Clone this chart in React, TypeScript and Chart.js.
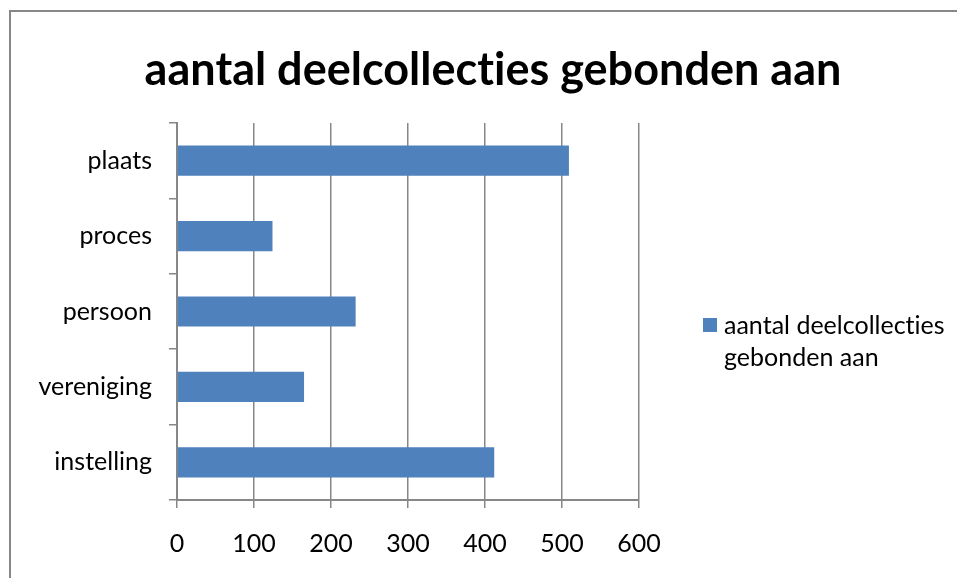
import React, { useEffect, useRef } from "react";
import { Chart, registerables } from "chart.js";

Chart.register(...registerables);

const CATEGORIES = ["plaats", "proces", "persoon", "vereniging", "instelling"];
const VALUES = [509, 124, 232, 165, 412];
const SERIES_LABEL = "aantal deelcollecties gebonden aan";
const LEGEND_LINES = ["aantal deelcollecties", "gebonden aan"];
const TITLE = "aantal deelcollecties gebonden aan";
const X_MIN = 0;
const X_MAX = 600;
const X_STEP = 100;

const GRID = "#878787";
const BAR = "#4F81BD";
const FONT = "Lato, 'Open Sans', sans-serif";

const frameTitleLegend = {
  id: "frameTitleLegend",
  afterDraw(chart: any) {
    const ctx = chart.ctx;
    ctx.save();
    // outer frame (top + left visible)
    ctx.strokeStyle = GRID;
    ctx.lineWidth = 2;
    ctx.beginPath();
    ctx.moveTo(10, 578);
    ctx.lineTo(10, 11);
    ctx.lineTo(957, 11);
    ctx.stroke();
    // title
    try {
      ctx.letterSpacing = "0.01px";
    } catch (e) {}
    ctx.fillStyle = "#000";
    ctx.font = `bold 45px ${FONT}`;
    ctx.textAlign = "center";
    ctx.textBaseline = "middle";
    ctx.fillText(TITLE, 493, 70);
    // legend
    const ds = chart.data.datasets[0];
    ctx.fillStyle = ds.backgroundColor;
    ctx.fillRect(703, 318, 14, 14);
    ctx.fillStyle = "#000";
    ctx.font = `25px ${FONT}`;
    ctx.textAlign = "left";
    ctx.fillText(LEGEND_LINES[0], 724, 326);
    ctx.fillText(LEGEND_LINES[1], 724, 358);
    ctx.restore();
  },
};

export default function App() {
  const ref = useRef<HTMLCanvasElement | null>(null);
  useEffect(() => {
    if (!ref.current) return;
    const chart = new Chart(ref.current, {
      type: "bar",
      data: {
        labels: CATEGORIES,
        datasets: [
          {
            label: SERIES_LABEL,
            data: VALUES,
            backgroundColor: BAR,
            borderWidth: 0,
            categoryPercentage: 1,
            barPercentage: 0.4,
          },
        ],
      },
      options: {
        indexAxis: "y",
        animation: false,
        responsive: false,
        maintainAspectRatio: false,
        layout: { padding: { top: 123, right: 318, left: 0, bottom: 0 } },
        plugins: {
          legend: { display: false },
          title: { display: false },
          tooltip: { enabled: false },
        },
        scales: {
          x: {
            min: X_MIN,
            max: X_MAX,
            ticks: {
              stepSize: X_STEP,
              color: "#000",
              font: { family: FONT, size: 25 },
              padding: 21,
              maxRotation: 0,
            },
            grid: { color: GRID, lineWidth: 1.5, tickLength: 8, drawTicks: true },
            border: { color: GRID, width: 2 },
            afterFit: (s: any) => {
              s.height = 78;
            },
          },
          y: {
            ticks: {
              color: "#000",
              font: { family: FONT, size: 25 },
              padding: 17,
            },
            grid: { color: GRID, lineWidth: 1.5, drawOnChartArea: false, tickLength: 8 },
            border: { color: GRID, width: 2 },
            afterFit: (s: any) => {
              s.width = 177;
            },
          },
        },
      },
      plugins: [frameTitleLegend],
    });
    return () => chart.destroy();
  }, []);
  return (
    <div style={{ position: "fixed", left: 0, top: 0, width: 957, height: 578, background: "#fff" }}>
      <canvas ref={ref} width={957} height={578} style={{ display: "block" }} />
    </div>
  );
}
